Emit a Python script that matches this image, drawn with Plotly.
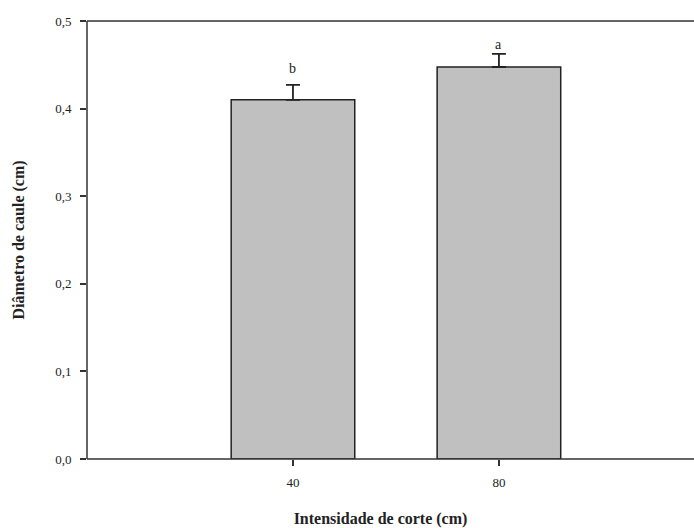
import plotly.graph_objects as go

categories = ["40", "80"]
means = [0.410, 0.4475]
errors = [0.017, 0.015]
letters = ["b", "a"]
letter_y = [0.446, 0.473]
y_ticks = [0.0, 0.1, 0.2, 0.3, 0.4, 0.5]
y_tick_labels = ["0,0", "0,1", "0,2", "0,3", "0,4", "0,5"]

xpos = list(range(len(categories)))
font = "Liberation Serif"

fig = go.Figure()
fig.add_trace(go.Bar(
    x=xpos, y=means, width=0.6,
    marker=dict(color="#c0c0c0", line=dict(color="#222222", width=1.5)),
    error_y=dict(type="data", symmetric=False, array=errors, arrayminus=[0] * len(errors),
                 color="#222222", thickness=1.8, width=7),
))
for x, ly, t in zip(xpos, letter_y, letters):
    fig.add_annotation(x=x, y=ly, text=t, showarrow=False,
                       font=dict(family=font, size=14, color="#222222"))

# frame lines, extended to the right edge of the page
edge = 607 / 587
fig.add_shape(type="line", xref="paper", yref="paper", x0=0, x1=edge, y0=1, y1=1,
              line=dict(color="#333333", width=1.5))
fig.add_shape(type="line", xref="paper", yref="paper", x0=0, x1=edge, y0=0, y1=0,
              line=dict(color="#333333", width=1.5))
fig.add_shape(type="line", xref="paper", yref="paper", x0=0, x1=0, y0=0, y1=1,
              line=dict(color="#333333", width=1.5))

fig.update_layout(
    width=694, height=528,
    margin=dict(l=87, r=20, t=21, b=69, pad=0, autoexpand=False),
    paper_bgcolor="white", plot_bgcolor="white",
    showlegend=False,
    font=dict(family=font, color="#222222"),
)
fig.update_xaxes(
    range=[-1, 1.85], tickvals=xpos, ticktext=categories,
    showline=False, mirror=False, automargin=False,
    ticks="outside", ticklen=6, tickwidth=1.5, tickcolor="#333333",
    showgrid=False, zeroline=False, ticklabelstandoff=5,
    tickfont=dict(family=font, size=13, color="#222222"),
    title=dict(text="<b>Intensidade de corte (cm)</b>", font=dict(family=font, size=16, color="#222222"), standoff=26),
)
fig.update_yaxes(
    range=[0, 0.5], tickvals=y_ticks, ticktext=y_tick_labels,
    showline=False, mirror=False, automargin=False,
    ticks="outside", ticklen=6, tickwidth=1.5, tickcolor="#333333",
    showgrid=False, zeroline=False, ticklabelstandoff=6,
    tickfont=dict(family=font, size=13, color="#222222"),
    title=dict(text="<b>Diâmetro de caule (cm)</b>", font=dict(family=font, size=16, color="#222222"), standoff=26),
)

fig.write_html("out.html", config={"displayModeBar": False})
